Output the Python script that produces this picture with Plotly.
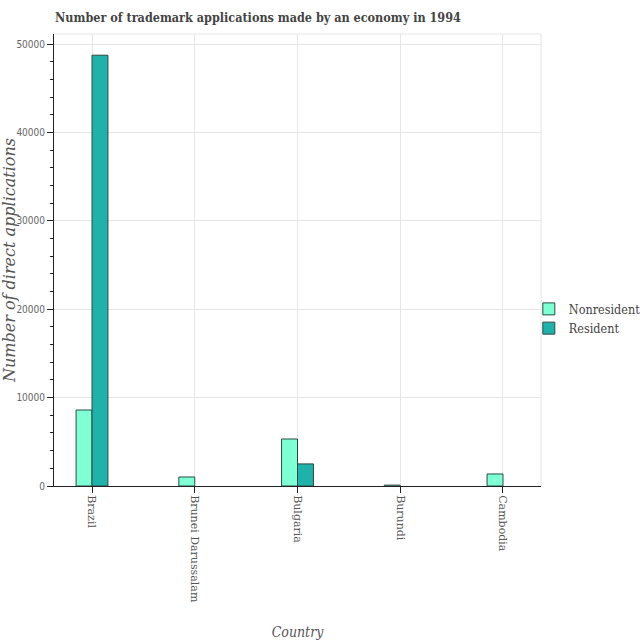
import plotly.graph_objects as go

countries = ["Brazil", "Brunei Darussalam", "Bulgaria", "Burundi", "Cambodia"]
nonresident = [8600, 1020, 5320, 100, 1360]
resident = [48750, None, 2500, None, None]

fig = go.Figure()
fig.add_trace(go.Bar(x=countries, y=nonresident, name="Nonresident",
                     marker=dict(color="#7FFFD4", line=dict(color="#2b4a45", width=1))))
fig.add_trace(go.Bar(x=countries, y=resident, name="Resident",
                     marker=dict(color="#20B2AA", line=dict(color="#2b4a45", width=1))))

fig.update_layout(
    width=640, height=640,
    margin=dict(l=54, r=99, t=34, b=154, autoexpand=False),
    paper_bgcolor="white", plot_bgcolor="white",
    barmode="group", bargap=0.69, bargroupgap=0,
    title=dict(text="<b>Number of trademark applications made by an economy in 1994</b>",
               x=0.086, xanchor="left", y=0.972, yanchor="middle",
               font=dict(family="DejaVu Serif Condensed", size=12.5, color="#444")),
    legend=dict(x=0.975, y=0.37, xanchor="left", yanchor="middle",
                itemwidth=30, tracegroupgap=0, bgcolor="rgba(0,0,0,0)",
                font=dict(family="DejaVu Serif Condensed", size=12.5, color="#444")),
    font=dict(family="DejaVu Serif", color="#555"),
)
fig.update_xaxes(
    range=[-0.37, 4.37], tickangle=90, ticks="outside", ticklen=6, tickcolor="#222",
    showline=True, linecolor="#222", linewidth=1,
    showgrid=True, gridcolor="#e6e6e6",
    tickfont=dict(family="DejaVu Serif", size=11, color="#555"),
    title=dict(text="<i>Country</i>", standoff=30,
               font=dict(family="DejaVu Serif Condensed", size=14, color="#555")),
)
fig.update_yaxes(
    range=[0, 51150], dtick=10000, tickformat="d", ticks="outside", ticklen=6, tickcolor="#222",
    minor=dict(dtick=2000, ticks="outside", ticklen=3, tickcolor="#222", showgrid=False),
    showline=True, linecolor="#222", linewidth=1,
    showgrid=True, gridcolor="#e6e6e6", zeroline=False,
    tickfont=dict(family="DejaVu Sans Condensed", size=10, color="#666"),
    title=dict(text="<i>Number of direct applications</i>", standoff=10,
               font=dict(family="DejaVu Serif", size=16, color="#555")),
)
fig.add_shape(type="line", xref="paper", yref="paper", x0=0, x1=1, y0=1, y1=1,
              line=dict(color="#e6e6e6", width=1))
fig.add_shape(type="line", xref="paper", yref="paper", x0=1, x1=1, y0=0, y1=1,
              line=dict(color="#e6e6e6", width=1))
fig.write_html("out.html")
